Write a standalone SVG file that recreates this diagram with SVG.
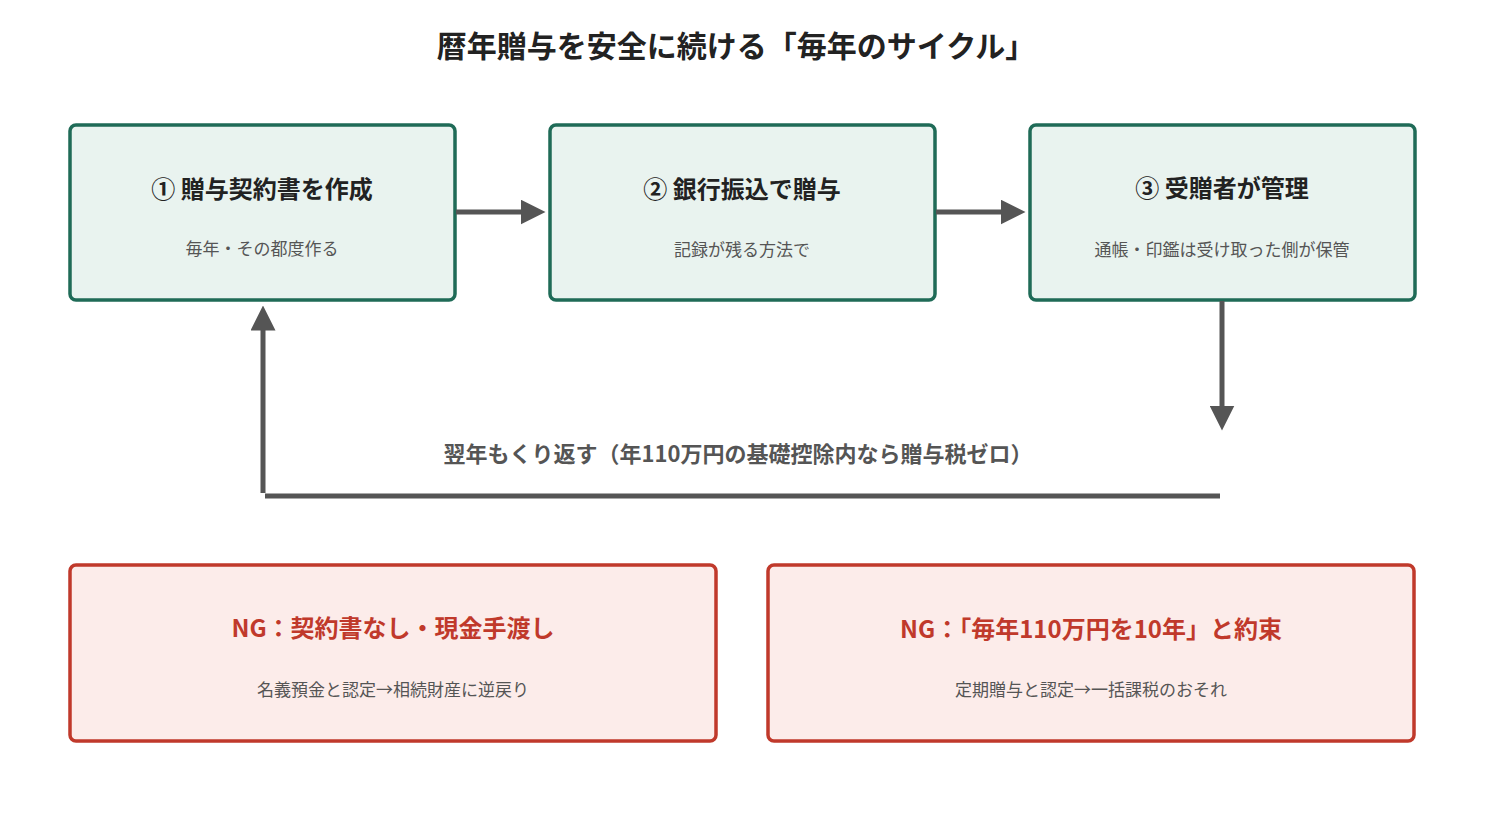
<svg xmlns="http://www.w3.org/2000/svg" width="1485" height="824" viewBox="0 0 1485 824">
<style>
text{font-family:"Noto Sans CJK JP","Noto Sans",sans-serif;text-anchor:middle}
.t{font-size:30px;font-weight:bold;fill:#222}
.g{fill:#e9f3ef;stroke:#1f6b57;stroke-width:3.5}
.r{fill:#fcecea;stroke:#c0392b;stroke-width:3.5}
.h{font-size:24px;font-weight:bold;fill:#222}
.hr{font-size:24px;font-weight:bold;fill:#c0392b}
.s{font-size:17px;fill:#555}
.c{stroke:#555;stroke-width:5;fill:none}
.l{font-size:22px;font-weight:bold;fill:#555}
</style>
<defs><marker id="a" markerWidth="5" markerHeight="5" refX="2.5" refY="2.5" orient="auto" markerUnits="strokeWidth"><path d="M0,0L5,2.5L0,5z" fill="#555"/></marker></defs>
<rect width="1485" height="824" fill="#fff"/>
<text class="t" x="736" y="57">暦年贈与を安全に続ける「毎年のサイクル」</text>
<g id="n1"><rect class="g" x="70" y="125" width="385" height="175" rx="6"/><text class="h" x="262" y="198">① 贈与契約書を作成</text><text class="s" x="262" y="255">毎年・その都度作る</text></g>
<g id="n2"><rect class="g" x="550" y="125" width="385" height="175" rx="6"/><text class="h" x="742" y="198">② 銀行振込で贈与</text><text class="s" x="742" y="256">記録が残る方法で</text></g>
<g id="n3"><rect class="g" x="1030" y="125" width="385" height="175" rx="6"/><text class="h" x="1222" y="197">③ 受贈者が管理</text><text class="s" x="1222" y="256">通帳・印鑑は受け取った側が保管</text></g>
<g id="connectors">
<path class="c" d="M456,212H533" marker-end="url(#a)"/>
<path class="c" d="M936,212H1013" marker-end="url(#a)"/>
<path class="c" d="M1222,301V418" marker-end="url(#a)"/>
<path class="c" d="M1220,496H265M263,493V318" marker-end="url(#a)"/>
<text class="l" x="738" y="462">翌年もくり返す（年110万円の基礎控除内なら贈与税ゼロ）</text>
</g>
<g id="ng1"><rect class="r" x="70" y="565" width="646" height="176" rx="6"/><text class="hr" x="393" y="637">NG：契約書なし・現金手渡し</text><text class="s" x="393" y="696">名義預金と認定→相続財産に逆戻り</text></g>
<g id="ng2"><rect class="r" x="768" y="565" width="646" height="176" rx="6"/><text class="hr" x="1091" y="638">NG：「毎年110万円を10年」と約束</text><text class="s" x="1091" y="696">定期贈与と認定→一括課税のおそれ</text></g>
</svg>
